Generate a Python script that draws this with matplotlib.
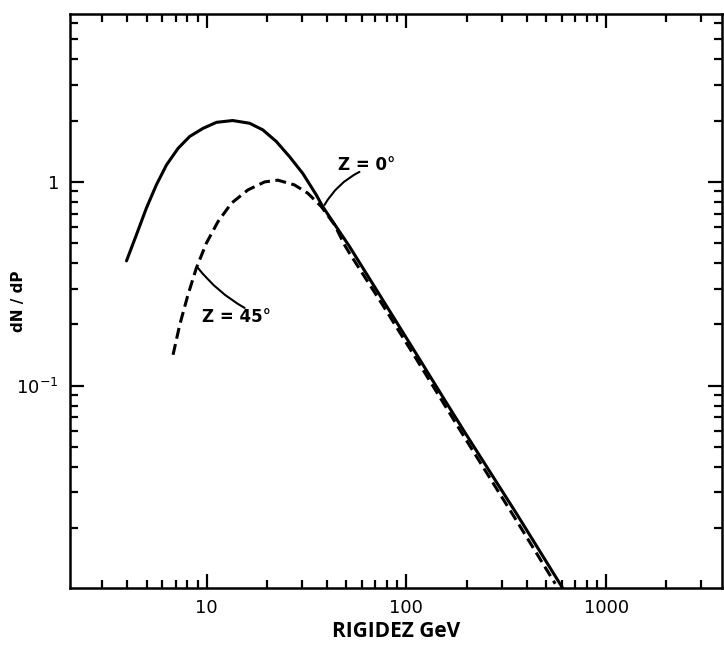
import matplotlib
matplotlib.use("Agg")
import matplotlib.pyplot as plt
from matplotlib.ticker import FixedLocator, FixedFormatter, LogLocator, NullFormatter

# Z = 0 deg (solid curve)
rigidity_z0 = [3.97, 4.45, 4.99, 5.60, 6.29, 7.19, 8.22, 9.58, 11.2, 13.5, 16.4,
               19.1, 22.3, 26.0, 30.3, 35.4, 38.1, 51.9, 76.1, 112, 152, 199,
               354, 605]
flux_z0 = [0.410, 0.550, 0.743, 0.967, 1.21, 1.46, 1.67, 1.83, 1.96, 2.00, 1.94,
           1.80, 1.58, 1.33, 1.10, 0.863, 0.757, 0.482, 0.264, 0.1435, 0.0883,
           0.0578, 0.0238, 0.0102]

# Z = 45 deg (dashed curve)
rigidity_z45 = [6.79, 7.33, 8.06, 8.88, 9.97, 11.4, 13.3, 16.1, 19.5, 22.7, 27.5,
                32.1, 37.5, 43.7, 49.0, 51.9, 76.1, 112, 199, 354, 556]
flux_z45 = [0.142, 0.199, 0.279, 0.378, 0.501, 0.639, 0.786, 0.914, 1.00, 1.02,
            0.967, 0.880, 0.757, 0.616, 0.491, 0.447, 0.249, 0.1356, 0.0543,
            0.0220, 0.0107]

x_tick_values = [10, 100, 1000]
x_tick_labels = ["10", "100", "1000"]
y_tick_values = [0.1, 1]
y_tick_labels = [r"$10^{-1}$", "1"]

fig = plt.figure(figsize=(7.24, 6.53), dpi=100)
ax = fig.add_axes([70 / 724, 1 - 588 / 653, (722 - 70) / 724, (588 - 14) / 653])
ax.set_xscale("log")
ax.set_yscale("log")

ax.plot(rigidity_z0, flux_z0, color="black", lw=2.2, solid_capstyle="round",
        solid_joinstyle="round")
ax.plot(rigidity_z45, flux_z45, color="black", lw=2.2, ls=(0, (3.6, 1.8)))

ax.set_xlim(2.07, 3800)
ax.set_ylim(0.0102, 6.66)

for s in ax.spines.values():
    s.set_linewidth(1.8)

ax.xaxis.set_major_locator(FixedLocator(x_tick_values))
ax.xaxis.set_major_formatter(FixedFormatter(x_tick_labels))
ax.yaxis.set_major_locator(FixedLocator(y_tick_values))
ax.yaxis.set_major_formatter(FixedFormatter(y_tick_labels))
ax.xaxis.set_minor_locator(LogLocator(base=10, subs=range(2, 10)))
ax.yaxis.set_minor_locator(LogLocator(base=10, subs=range(2, 10)))
ax.xaxis.set_minor_formatter(NullFormatter())
ax.yaxis.set_minor_formatter(NullFormatter())

ax.tick_params(which="both", direction="in", top=True, right=True, width=1.6)
ax.tick_params(which="major", length=10, labelsize=13, pad=8)
ax.tick_params(which="minor", length=6)

ax.set_xlabel("RIGIDEZ GeV", fontsize=15, fontweight="bold", family="Open Sans", labelpad=3)
ax.set_ylabel("dN / dP", fontsize=11, fontweight="bold")
ax.yaxis.set_label_coords(-0.068, 0.5)

ax.annotate("", xy=(38.9, 0.771), xytext=(58.2, 1.12),
            arrowprops=dict(arrowstyle="-", lw=1.5, color="black",
                            connectionstyle="arc3,rad=0.15", shrinkA=0, shrinkB=0))
ax.text(45.2, 1.21, "Z = 0°", fontsize=12, fontweight="bold", va="center", ha="left")

ax.annotate("", xy=(9.02, 0.38), xytext=(15.5, 0.241),
            arrowprops=dict(arrowstyle="-", lw=1.5, color="black",
                            connectionstyle="arc3,rad=-0.1", shrinkA=0, shrinkB=0))
ax.text(9.44, 0.218, "Z = 45°", fontsize=12, fontweight="bold", va="center", ha="left")

fig.savefig("out.png", dpi=100)
